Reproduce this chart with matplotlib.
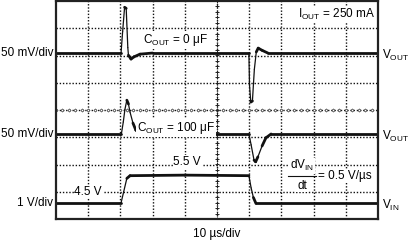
import numpy as np
import matplotlib.pyplot as plt
from matplotlib.collections import LineCollection

plt.rcParams['font.family'] = ['Liberation Sans', 'DejaVu Sans']
plt.rcParams['mathtext.fontset'] = 'custom'
plt.rcParams['mathtext.rm'] = 'Liberation Sans'
plt.rcParams['mathtext.it'] = 'Liberation Sans'

# scope settings: 10 us/div, 10 x 8 divisions
time_per_div = 10.0          # us
vout_per_div = 50.0          # mV
vin_per_div = 1.0            # V

# channel positions (divisions from screen centre)
vout0_pos = 2.09
vout100_pos = -0.88
vin_ref_volt = 4.5
vin_ref_pos = -3.41

# VOUT with COUT = 0 uF, deviation in mV
t_vout0 = [0, 20.2, 20.7, 21.3, 21.8, 22.3, 22.5, 23.3, 24.2, 26.1, 30,
           59.9, 60.1, 60.5, 61.0, 61.6, 62.2, 62.8, 64.0, 65.8, 100]
v_vout0 = [0, 0, 40, 84, 82, 10, -4, -11, -7, -2, 0,
           0, -60, -90, -88, -30, 2, 9, 5, 0, 0]

# VOUT with COUT = 100 uF, deviation in mV
t_vout100 = [0, 20.3, 20.9, 21.4, 22.0, 22.5, 23.0, 23.9, 24.8, 26.1, 27.6,
             59.9, 60.6, 61.5, 62.0, 62.7, 64.0, 65.2, 66.8, 100]
v_vout100 = [0, 0, 22, 45, 62, 55, 40, 20, 7, 2, 0,
             0, -20, -48, -51, -42, -22, -7, 0, 0]

# VIN in volts
t_vin = [0, 20.2, 21.0, 22.0, 23.0, 40, 59.9, 60.6, 61.3, 62.1, 100]
v_vin = [4.5, 4.5, 4.9, 5.4, 5.5, 5.52, 5.5, 5.05, 4.7, 4.48, 4.48]

fig = plt.figure(figsize=(4.11, 2.41), dpi=100)
ax = fig.add_axes([56 / 411, 22 / 241, 322 / 411, 218 / 241])
ax.set_xlim(0, 10 * time_per_div)
ax.set_ylim(-4, 4)
ax.set_xticks([])
ax.set_yticks([])
for s in ax.spines.values():
    s.set_linewidth(1.6)
    s.set_color('#222222')
    s.set_zorder(6)

# graticule
grid_kw = dict(color='#111111', lw=1.0, linestyle=(0, (1, 1.3)), zorder=1)
for i in range(1, 10):
    ax.axvline(i * time_per_div, **grid_kw)
for j in range(-3, 4):
    ax.axhline(j, **grid_kw)
# minor ticks on the centre lines
xs = np.arange(0, 100.1, 2.0)
ax.plot(xs, np.zeros_like(xs), ls='none', marker='D', ms=1.6, mew=0.5, mfc='white',
        color='#333333', zorder=1)
ys = np.arange(-4, 4.01, 0.2)
ax.plot(np.full_like(ys, 50.0), ys, ls='none', marker='+', ms=3, mew=0.7,
        color='#222222', zorder=1)


def trace(t, y):
    # slow parts thick like the noisy scope trace, fast edges thin
    pts = np.column_stack([t, y])
    segs = np.stack([pts[:-1], pts[1:]], axis=1)
    slope = np.abs(np.diff(y) / np.diff(t))
    widths = np.where(slope < 0.3, 2.0, 0.9)
    ax.add_collection(LineCollection(segs, linewidths=widths, colors='#111111',
                                     capstyle='round', zorder=3))


trace(np.array(t_vout0), vout0_pos + np.array(v_vout0) / vout_per_div)
trace(np.array(t_vout100), vout100_pos + np.array(v_vout100) / vout_per_div)
trace(np.array(t_vin), vin_ref_pos + (np.array(v_vin) - vin_ref_volt) / vin_per_div)

fs = 8.5
wb = dict(facecolor='white', edgecolor='none', pad=0.5)

# channel labels
left_labels = ['50 mV/div', '50 mV/div', '1 V/div']
right_labels = [r'V$_\mathregular{OUT}$', r'V$_\mathregular{OUT}$', r'V$_\mathregular{IN}$']
positions = [vout0_pos, vout100_pos, vin_ref_pos]
for lab, rlab, p in zip(left_labels, right_labels, positions):
    ax.text(-0.8, p, lab, ha='right', va='center', fontsize=fs, clip_on=False)
    ax.text(101.3, p - 0.1, rlab, ha='left', va='center', fontsize=fs, clip_on=False)

ax.text(99, 3.5, r'I$_\mathregular{OUT}$ = 250 mA', ha='right', va='center', fontsize=fs, bbox=wb, zorder=4)
ax.text(27, 2.57, r'C$_\mathregular{OUT}$ = 0 $\mathregular{\mu}$F', ha='left', va='center', fontsize=fs, bbox=wb, zorder=4)
ax.text(25.2, -0.66, r'C$_\mathregular{OUT}$ = 100 $\mathregular{\mu}$F', ha='left', va='center', fontsize=fs, bbox=wb, zorder=4)
ax.text(40.7, -1.91, '5.5 V', ha='center', va='center', fontsize=fs, bbox=wb, zorder=4)
ax.text(10, -3.0, '4.5 V', ha='center', va='center', fontsize=fs, bbox=wb, zorder=4)

# dVin/dt fraction
ax.text(76.4, -2.05, r'dV$_\mathregular{IN}$', ha='center', va='center', fontsize=fs, bbox=wb, zorder=4)
ax.plot([72, 80.8], [-2.42, -2.42], color='#111111', lw=0.8, zorder=5)
ax.text(76.4, -2.78, 'dt', ha='center', va='center', fontsize=fs, bbox=wb, zorder=4)
ax.text(81.4, -2.44, '= 0.5 V/\u00b5s', ha='left', va='center', fontsize=fs, bbox=wb, zorder=4)

ax.text(50, -4.55, '10 \u00b5s/div', ha='center', va='center', fontsize=fs, clip_on=False)

fig.savefig('out.png', dpi=100)
